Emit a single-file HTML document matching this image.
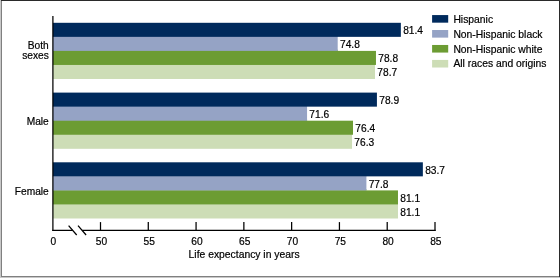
<!DOCTYPE html>
<html><head><meta charset="utf-8"><style>
html,body{margin:0;padding:0;background:#fff;}
body{width:560px;height:278px;overflow:hidden;position:relative;}
svg{position:absolute;left:0;top:0;will-change:transform;}
text{font-family:"Liberation Sans",sans-serif;font-size:10.2px;fill:#000;stroke:#000;stroke-width:0.2px;}
</style></head><body>
<svg width="560" height="278" viewBox="0 0 560 278">
<rect x="0" y="0" width="560" height="278" fill="#fff"/>
<rect x="0" y="0" width="1" height="278" fill="#c8c8c8"/>
<rect x="1" y="1" width="1" height="275" fill="#808080"/>
<rect x="1" y="0" width="559" height="1" fill="#2a2a2a"/>
<rect x="559" y="0" width="1" height="277" fill="#2a2a2a"/>
<rect x="1" y="276" width="558" height="1" fill="#808080"/>
<rect x="0" y="277" width="560" height="1" fill="#c8c8c8"/>
<rect x="52.90" y="64.95" width="322.11" height="14.05" fill="#cdddb6"/>
<rect x="52.90" y="63.75" width="322.11" height="1.4" fill="#cdddb6"/>
<rect x="52.90" y="50.90" width="323.07" height="14.05" fill="#6c9c33"/>
<rect x="52.90" y="49.70" width="284.79" height="1.4" fill="#6c9c33"/>
<rect x="52.90" y="36.85" width="284.79" height="14.05" fill="#95a3c5"/>
<rect x="52.90" y="35.65" width="284.79" height="1.4" fill="#95a3c5"/>
<rect x="52.90" y="22.80" width="347.95" height="14.05" fill="#002a5c"/>
<rect x="52.90" y="134.75" width="299.14" height="14.05" fill="#cdddb6"/>
<rect x="52.90" y="133.55" width="299.14" height="1.4" fill="#cdddb6"/>
<rect x="52.90" y="120.70" width="300.10" height="14.05" fill="#6c9c33"/>
<rect x="52.90" y="119.50" width="254.16" height="1.4" fill="#6c9c33"/>
<rect x="52.90" y="106.65" width="254.16" height="14.05" fill="#95a3c5"/>
<rect x="52.90" y="105.45" width="254.16" height="1.4" fill="#95a3c5"/>
<rect x="52.90" y="92.60" width="324.02" height="14.05" fill="#002a5c"/>
<rect x="52.90" y="204.45" width="345.08" height="14.05" fill="#cdddb6"/>
<rect x="52.90" y="203.25" width="345.08" height="1.4" fill="#cdddb6"/>
<rect x="52.90" y="190.40" width="345.08" height="14.05" fill="#6c9c33"/>
<rect x="52.90" y="189.20" width="313.50" height="1.4" fill="#6c9c33"/>
<rect x="52.90" y="176.35" width="313.50" height="14.05" fill="#95a3c5"/>
<rect x="52.90" y="175.15" width="313.50" height="1.4" fill="#95a3c5"/>
<rect x="52.90" y="162.30" width="369.96" height="14.05" fill="#002a5c"/>
<text x="403.15" y="33.53">81.4</text>
<text x="339.99" y="47.58">74.8</text>
<text x="378.27" y="61.63">78.8</text>
<text x="377.31" y="75.68">78.7</text>
<text x="379.22" y="103.92">78.9</text>
<text x="309.36" y="117.97">71.6</text>
<text x="355.30" y="132.02">76.4</text>
<text x="354.34" y="146.07">76.3</text>
<text x="425.16" y="173.62">83.7</text>
<text x="368.70" y="187.68">77.8</text>
<text x="400.28" y="201.72">81.1</text>
<text x="400.28" y="215.78">81.1</text>
<path d="M52.90 16 V230.93" stroke="#000" stroke-width="1.25" fill="none"/>
<path d="M52.27 230.3 H72.6 M82.2 230.3 H435.62" stroke="#000" stroke-width="1.25" fill="none"/>
<path d="M100.50 222.1 V230.9" stroke="#000" stroke-width="1.25" fill="none"/>
<text x="101.40" y="244.5" text-anchor="middle">50</text>
<path d="M148.28 222.1 V230.9" stroke="#000" stroke-width="1.25" fill="none"/>
<text x="149.19" y="244.5" text-anchor="middle">55</text>
<path d="M196.07 222.1 V230.9" stroke="#000" stroke-width="1.25" fill="none"/>
<text x="196.97" y="244.5" text-anchor="middle">60</text>
<path d="M243.86 222.1 V230.9" stroke="#000" stroke-width="1.25" fill="none"/>
<text x="244.76" y="244.5" text-anchor="middle">65</text>
<path d="M291.64 222.1 V230.9" stroke="#000" stroke-width="1.25" fill="none"/>
<text x="292.54" y="244.5" text-anchor="middle">70</text>
<path d="M339.43 222.1 V230.9" stroke="#000" stroke-width="1.25" fill="none"/>
<text x="340.32" y="244.5" text-anchor="middle">75</text>
<path d="M387.21 222.1 V230.9" stroke="#000" stroke-width="1.25" fill="none"/>
<text x="388.11" y="244.5" text-anchor="middle">80</text>
<path d="M435.00 222.1 V230.9" stroke="#000" stroke-width="1.25" fill="none"/>
<text x="435.89" y="244.5" text-anchor="middle">85</text>
<text x="53.40" y="244.5" text-anchor="middle">0</text>
<path d="M68.6 225.6 L76.7 235 M78 225.6 L86.1 235" stroke="#000" stroke-width="1.25" fill="none"/>
<text x="244.1" y="258.0" text-anchor="middle" style="font-size:10.35px">Life expectancy in years</text>
<text x="48.8" y="48.8" text-anchor="end">Both</text>
<text x="48.8" y="58.7" text-anchor="end">sexes</text>
<text x="48.8" y="125.2" text-anchor="end">Male</text>
<text x="48.8" y="194.5" text-anchor="end">Female</text>
<rect x="432.1" y="15.07" width="16.1" height="7.6" fill="#002a5c"/>
<text x="453.4" y="22.62" style="font-size:10.35px">Hispanic</text>
<rect x="432.1" y="30.02" width="16.1" height="7.6" fill="#95a3c5"/>
<text x="453.4" y="37.57" style="font-size:10.35px">Non-Hispanic black</text>
<rect x="432.1" y="44.97" width="16.1" height="7.6" fill="#6c9c33"/>
<text x="453.4" y="52.52" style="font-size:10.35px">Non-Hispanic white</text>
<rect x="432.1" y="59.92" width="16.1" height="7.6" fill="#cdddb6"/>
<text x="453.4" y="67.47" style="font-size:10.35px">All races and origins</text>
</svg>
</body></html>
